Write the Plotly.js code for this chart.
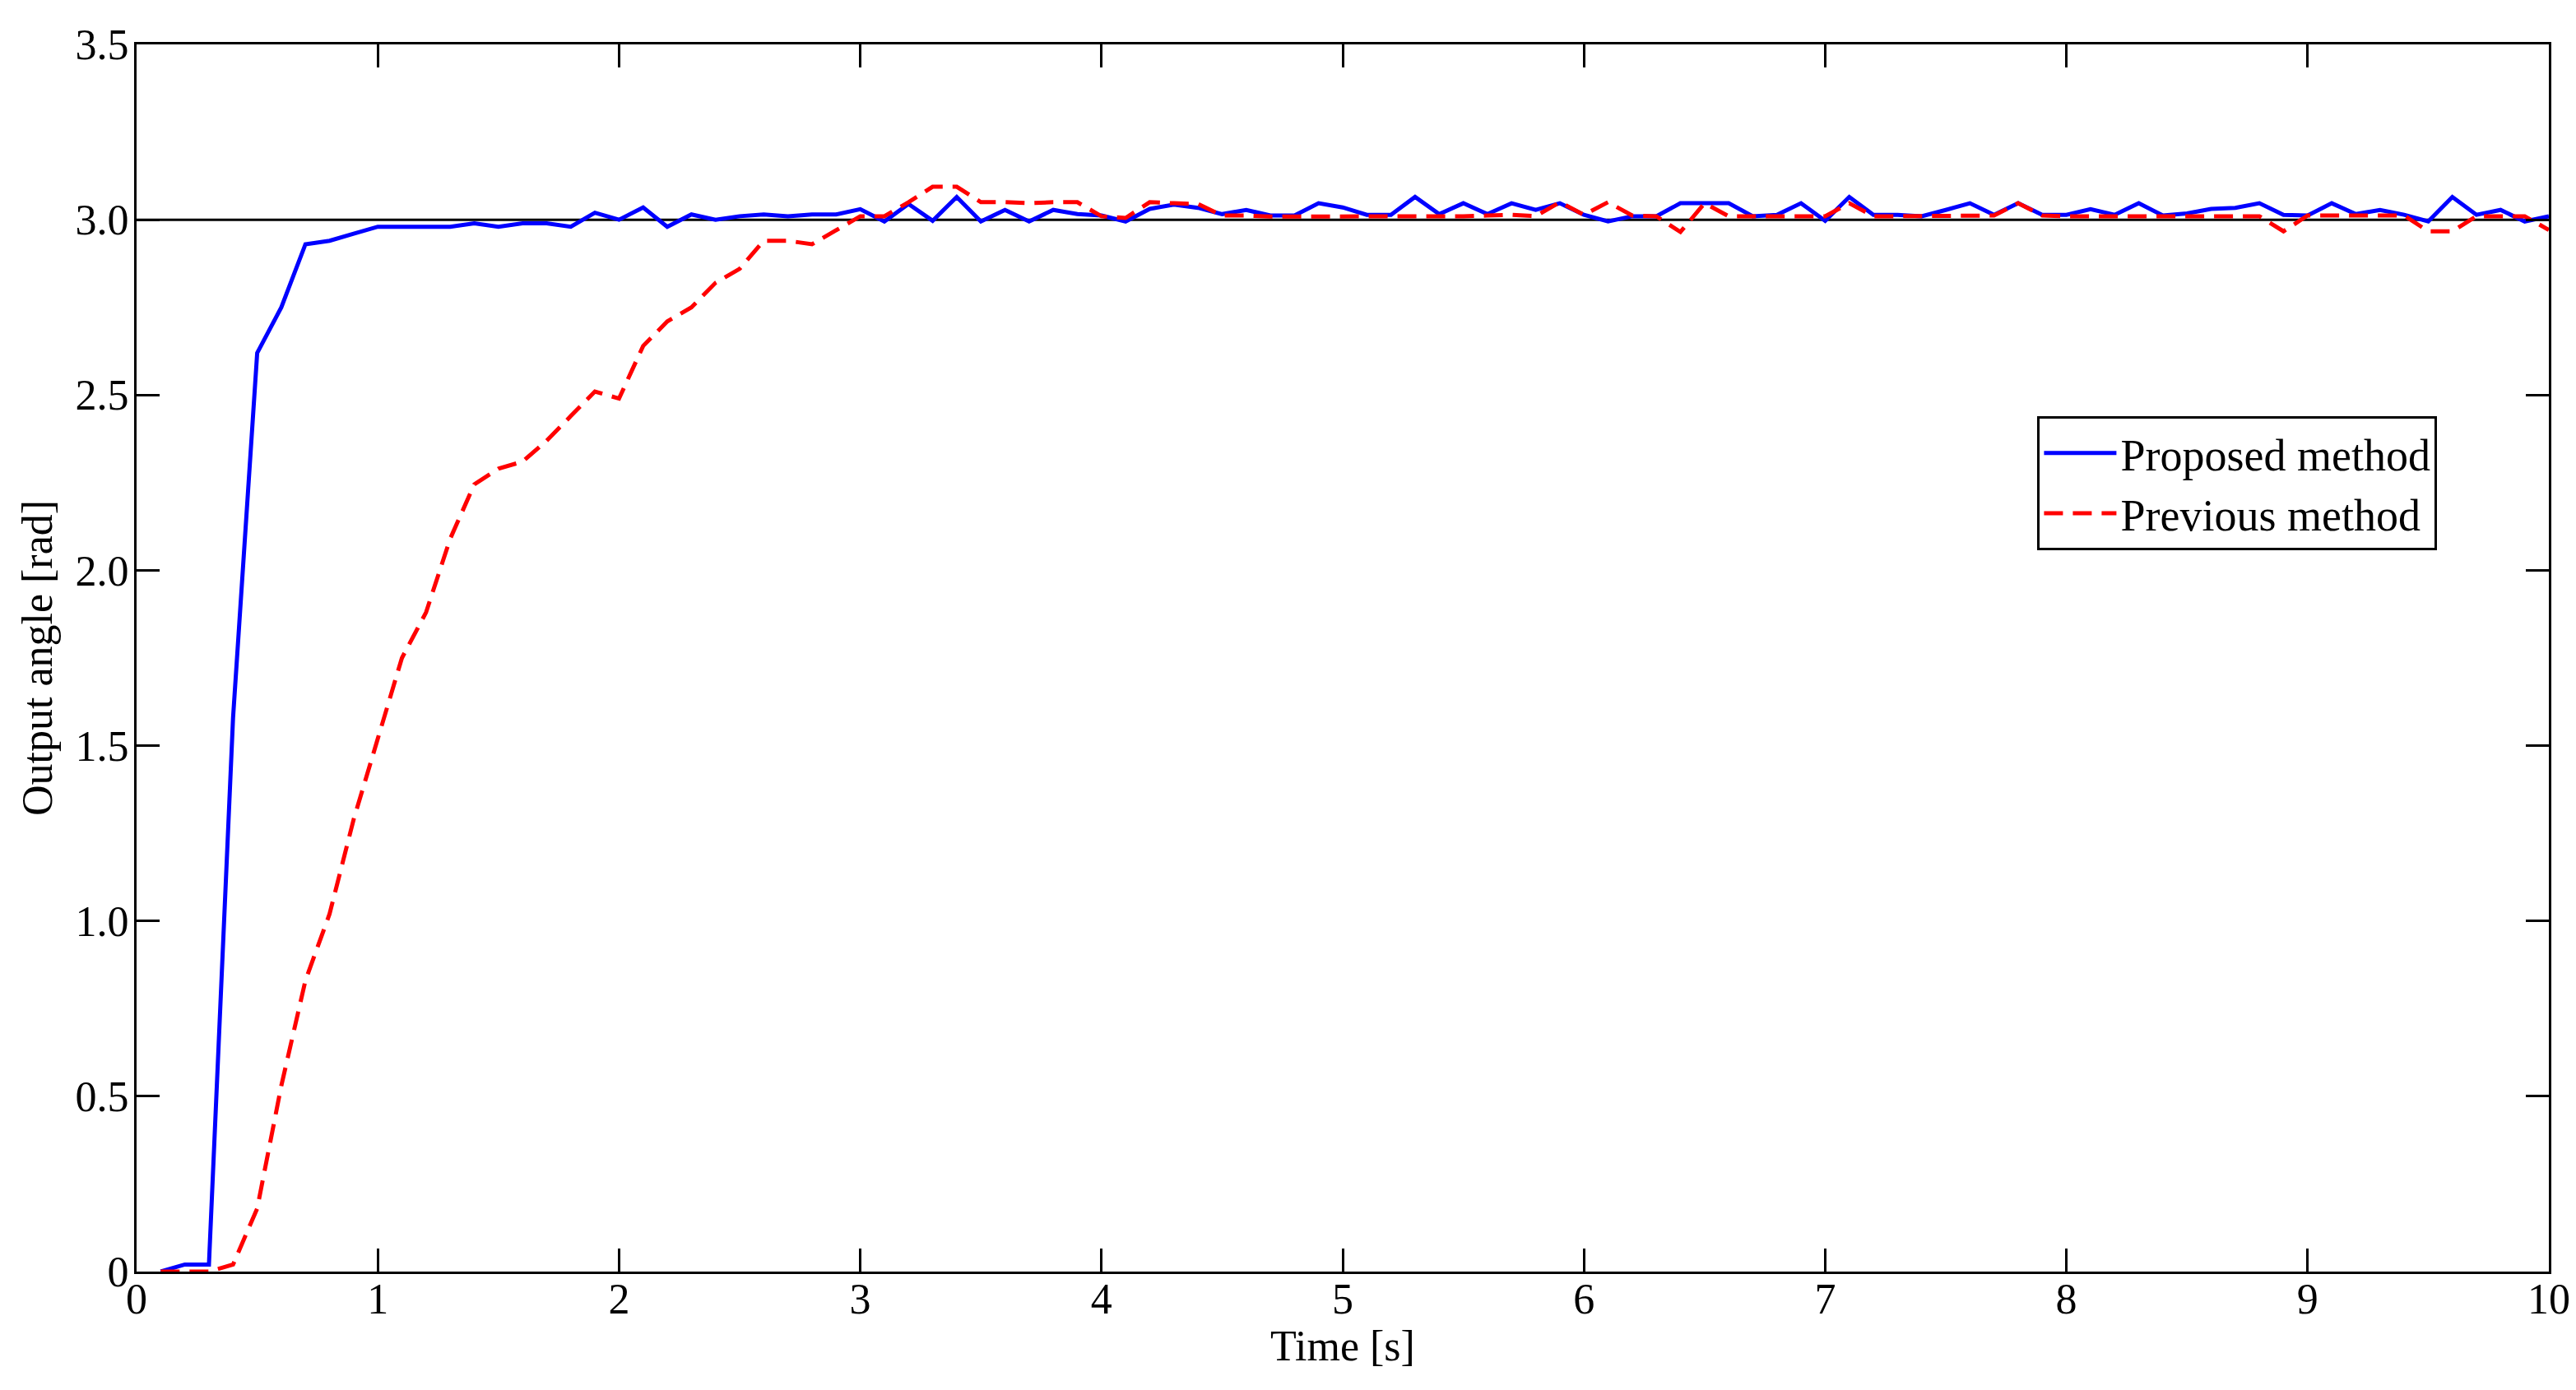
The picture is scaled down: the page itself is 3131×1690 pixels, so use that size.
<!DOCTYPE html>
<html>
<head>
<meta charset="utf-8">
<script src="https://cdn.plot.ly/plotly-3.0.1.min.js"></script>
<style>html,body{margin:0;padding:0;background:#fff;}#chart{width:3131px;height:1690px;}</style>
</head>
<body>
<div id="chart"></div>
<script>
var time = [0.1,0.2,0.3,0.4,0.5,0.6,0.7,0.8,0.9,1.0,
            1.1,1.2,1.3,1.4,1.5,1.6,1.7,1.8,1.9,2.0,
            2.1,2.2,2.3,2.4,2.5,2.6,2.7,2.8,2.9,3.0,
            3.1,3.2,3.3,3.4,3.5,3.6,3.7,3.8,3.9,4.0,
            4.1,4.2,4.3,4.4,4.5,4.6,4.7,4.8,4.9,5.0,
            5.1,5.2,5.3,5.4,5.5,5.6,5.7,5.8,5.9,6.0,
            6.1,6.2,6.3,6.4,6.5,6.6,6.7,6.8,6.9,7.0,
            7.1,7.2,7.3,7.4,7.5,7.6,7.7,7.8,7.9,8.0,
            8.1,8.2,8.3,8.4,8.5,8.6,8.7,8.8,8.9,9.0,
            9.1,9.2,9.3,9.4,9.5,9.6,9.7,9.8,9.9,10.0];

var proposed = [0,0.02,0.02,1.58,2.62,2.75,2.93,2.94,2.96,2.98,
                2.98,2.98,2.98,2.99,2.98,2.99,2.99,2.98,3.02,3.00,
                3.035,2.98,3.015,3.00,3.01,3.015,3.01,3.015,3.015,3.03,
                2.995,3.045,2.997,3.065,2.995,3.028,2.995,3.028,3.016,3.012,
                2.995,3.031,3.043,3.034,3.016,3.028,3.012,3.012,3.047,3.035,
                3.014,3.014,3.065,3.016,3.047,3.016,3.047,3.028,3.047,3.014,
                2.995,3.01,3.01,3.047,3.047,3.047,3.01,3.014,3.047,2.997,
                3.065,3.014,3.014,3.01,3.028,3.047,3.014,3.047,3.014,3.014,
                3.03,3.014,3.047,3.012,3.018,3.031,3.034,3.047,3.014,3.012,
                3.047,3.016,3.028,3.014,2.995,3.065,3.014,3.028,2.995,3.01];

var previous = [0,0,0,0.02,0.18,0.53,0.83,1.02,1.29,1.52,
                1.75,1.88,2.09,2.245,2.29,2.31,2.37,2.44,2.51,2.49,
                2.64,2.71,2.75,2.82,2.86,2.94,2.94,2.93,2.97,3.01,
                3.01,3.05,3.094,3.094,3.05,3.05,3.047,3.05,3.05,3.01,
                3.005,3.05,3.047,3.045,3.012,3.012,3.009,3.009,3.009,3.009,
                3.009,3.009,3.009,3.009,3.01,3.012,3.014,3.01,3.05,3.014,
                3.05,3.012,3.01,2.965,3.047,3.01,3.01,3.01,3.01,3.01,
                3.047,3.01,3.01,3.01,3.01,3.01,3.012,3.047,3.012,3.01,
                3.01,3.01,3.01,3.01,3.01,3.01,3.01,3.01,2.967,3.012,
                3.012,3.012,3.012,3.012,2.967,2.967,3.01,3.01,3.01,2.971];

var refX = [0, 10];
var refY = [3, 3];

var xTickVals = [0,1,2,3,4,5,6,7,8,9,10];
var yTickVals = [0,0.5,1.0,1.5,2.0,2.5,3.0,3.5];
var yTickText = ['0','0.5','1.0','1.5','2.0','2.5','3.0','3.5'];

var FONT = 'Liberation Serif, Times New Roman, serif';

var traces = [
  {x: refX, y: refY, mode: 'lines', line: {color: '#000000', width: 3}, showlegend: false, hoverinfo: 'skip'},
  {x: time, y: proposed, mode: 'lines', name: 'Proposed method', line: {color: '#0000ff', width: 5}},
  {x: time, y: previous, mode: 'lines', name: 'Previous method', line: {color: '#ff0000', width: 5, dash: '23px,12px'}}
];

var layout = {
  width: 3131, height: 1690,
  paper_bgcolor: '#ffffff', plot_bgcolor: '#ffffff',
  margin: {l: 166, r: 33, t: 54, b: 144, pad: 0},
  font: {family: FONT, size: 52, color: '#000000'},
  showlegend: true,
  legend: {
    x: 0.788, y: 0.697, xanchor: 'left', yanchor: 'top',
    bgcolor: '#ffffff', bordercolor: '#000000', borderwidth: 3,
    font: {family: FONT, size: 54, color: '#000000'},
    itemwidth: 88, tracegroupgap: 0
  },
  xaxis: {
    range: [0, 10], tickvals: xTickVals, ticks: 'inside', ticklen: 28, tickwidth: 3, tickcolor: '#000',
    showline: true, linewidth: 3, linecolor: '#000', mirror: 'ticks', showgrid: false, zeroline: false,
    ticklabelstandoff: -14,
    tickfont: {family: FONT, size: 52, color: '#000'},
    title: {text: 'Time [s]', font: {family: FONT, size: 52, color: '#000'}, standoff: 0}
  },
  yaxis: {
    range: [0, 3.5], tickvals: yTickVals, ticktext: yTickText, ticks: 'inside', ticklen: 28, tickwidth: 3, tickcolor: '#000',
    showline: true, linewidth: 3, linecolor: '#000', mirror: 'ticks', showgrid: false, zeroline: false,
    ticklabelstandoff: -4,
    tickfont: {family: FONT, size: 52, color: '#000'},
    title: {text: 'Output angle [rad]', font: {family: FONT, size: 52, color: '#000'}, standoff: 12}
  }
};

Plotly.newPlot('chart', traces, layout, {displayModeBar: false, staticPlot: true});
</script>
</body>
</html>
